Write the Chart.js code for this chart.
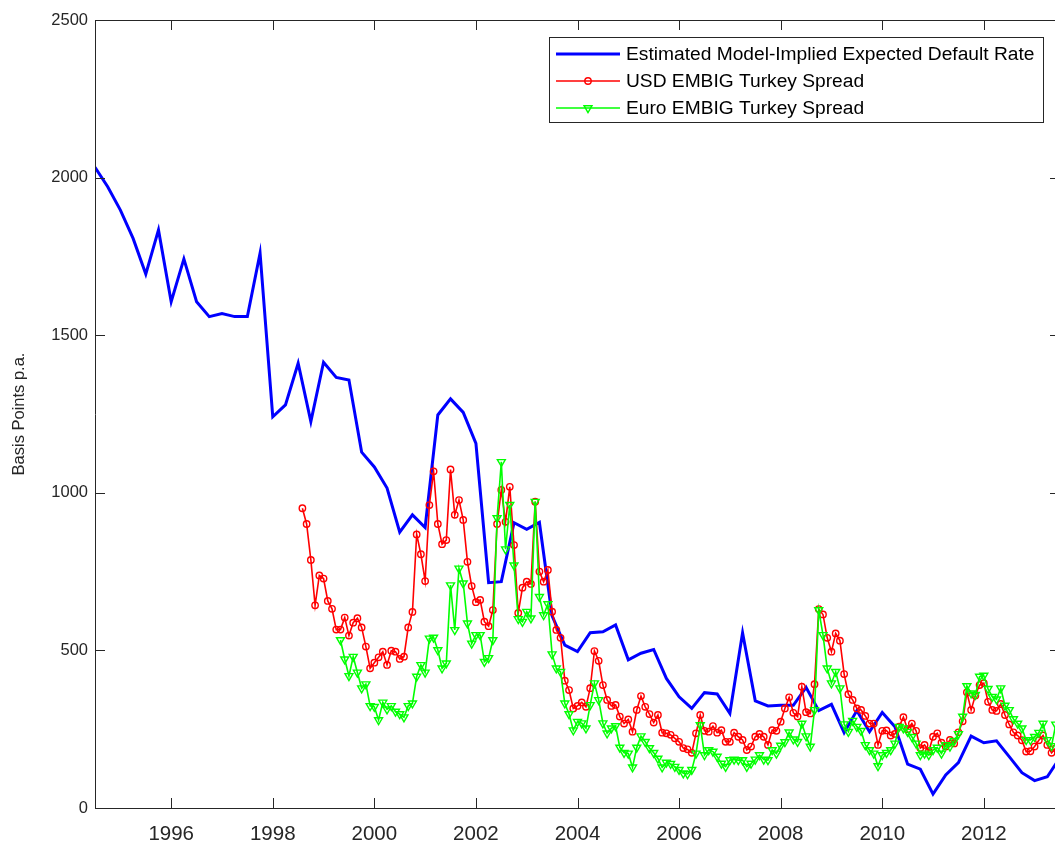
<!DOCTYPE html>
<html><head><meta charset="utf-8">
<script src="https://cdn.jsdelivr.net/npm/chart.js@4.4.1/dist/chart.umd.min.js"></script>
<style>
html,body{margin:0;padding:0;background:#fff;overflow:hidden;}
#wrap{position:absolute;left:0;top:0;width:1068px;height:843px;}
</style></head><body>
<div id="wrap"><canvas id="c" width="1068" height="843"></canvas></div>
<script>
// ---- data ----
const tickYears = [1996,1998,2000,2002,2004,2006,2008,2010,2012];
const yTickValues = [0,500,1000,1500,2000,2500];
const seriesNames = ['Estimated Model-Implied Expected Default Rate','USD EMBIG Turkey Spread','Euro EMBIG Turkey Spread'];
const yAxisTitle = 'Basis Points p.a.';

// quarterly, first observation 1994 Q3
const modelStartYear = 1994.5;
const modelRate = [2033,1971,1897,1807,1694,1834,1606,1742,1606,1559,1569,1559,1559,1760,1241,1279,1411,1226,1414,1366,
1358,1129,1082,1015,875,930,890,1247,1298,1255,1157,715,718,905,884,906,610,517,496,556,
559,581,470,491,503,411,353,316,366,362,300,556,340,324,326,326,383,309,329,239,
309,242,303,258,139,123,44,105,144,228,207,213,163,112,87,99,160];

// monthly, first observation Aug 1998
const usdStart = {year:1998, month:8};
const usdSpread = [951,901,787,643,738,728,657,632,566,566,
604,547,588,602,573,512,443,461,478,496,
454,499,496,473,480,573,622,868,805,720,
961,1068,901,837,850,1074,930,977,914,781,
704,653,660,591,577,628,901,1009,908,1019,
834,619,699,718,711,972,750,718,755,623,
565,540,404,374,316,324,335,321,380,498,
467,390,343,324,327,290,268,281,242,311,
355,321,298,271,295,239,237,232,221,210,
190,186,175,237,295,245,242,260,239,247,
210,210,239,226,216,184,195,226,235,226,
200,247,245,274,316,351,302,290,385,304,
300,393,631,614,540,496,554,531,425,361,
343,316,311,292,268,268,200,245,246,230,
235,258,288,250,268,245,190,200,180,226,
237,207,195,216,205,240,275,367,311,357,
390,396,337,311,308,330,295,265,240,230,
215,179,180,195,215,230,200,175,190];

// monthly, first observation May 1999
const euroStart = {year:1999, month:5};
const euroSpread = [533,472,419,480,430,380,393,324,321,279,335,
313,324,306,298,288,324,332,417,454,430,
538,541,501,443,459,707,565,760,713,586,
522,549,549,464,476,533,920,1098,821,962,
770,600,591,623,602,972,670,612,647,488,
443,432,332,298,247,274,269,253,327,396,
343,269,237,253,260,192,175,173,129,192,
228,210,190,175,157,129,144,140,131,121,
110,108,121,173,263,168,184,179,163,141,
131,152,154,152,152,131,141,154,168,154,
152,184,173,198,209,240,218,210,268,228,
195,311,628,549,443,396,432,380,266,242,
277,258,245,200,184,173,133,168,175,184,
205,258,253,242,226,205,168,173,168,184,
192,173,200,195,213,235,290,387,364,359,
417,420,378,353,345,380,325,311,282,268,
253,216,216,226,239,268,216,197,265];

// ---- build points ----
const quarterly = (start, vals) => vals.map((v,i) => ({x: start + i/4, y: v}));
const monthly = (st, vals) => vals.map((v,i) => ({x: st.year + (st.month - 1 + i)/12, y: v}));

const FONT = "'Liberation Sans', Arial, Helvetica, sans-serif";
const AXIS = '#262626';
const COLORS = ['#0000ff','#ff0000','#00ff00'];

const framePlugin = {
  id: 'frame',
  afterDatasetsDraw(chart) {
    const {ctx, chartArea: a, scales: {x, y}} = chart;
    ctx.save();
    ctx.strokeStyle = AXIS;
    ctx.lineWidth = 1;
    ctx.beginPath();
    ctx.rect(Math.round(a.left) + 0.5, Math.round(a.top) + 0.5, Math.round(a.right - a.left), Math.round(a.bottom - a.top));
    ctx.stroke();
    const TL = 10;
    ctx.beginPath();
    tickYears.forEach(t => {
      const px = Math.round(x.getPixelForValue(t)) + 0.5;
      ctx.moveTo(px, a.bottom); ctx.lineTo(px, a.bottom - TL);
      ctx.moveTo(px, a.top); ctx.lineTo(px, a.top + TL);
    });
    yTickValues.forEach(t => {
      const py = Math.round(y.getPixelForValue(t)) + 0.5;
      ctx.moveTo(a.left, py); ctx.lineTo(a.left + TL, py);
      ctx.moveTo(a.right, py); ctx.lineTo(a.right - TL, py);
    });
    ctx.stroke();

    // legend
    const bx = 549.5, by = 37.5, bw = 494, bh = 85;
    ctx.fillStyle = '#ffffff';
    ctx.fillRect(bx, by, bw, bh);
    ctx.strokeStyle = AXIS;
    ctx.lineWidth = 1;
    ctx.strokeRect(bx, by, bw, bh);
    const rows = [54, 81, 108];
    chart.data.datasets.forEach((ds, i) => {
      const ry = rows[i];
      ctx.strokeStyle = ds.borderColor;
      ctx.lineWidth = ds.borderWidth;
      ctx.beginPath(); ctx.moveTo(556, ry); ctx.lineTo(620, ry); ctx.stroke();
      if (ds.pointRadius > 0) {
        ctx.fillStyle = 'rgba(0,0,0,0)';
        ctx.strokeStyle = ds.pointBorderColor;
        ctx.lineWidth = ds.pointBorderWidth;
        Chart.helpers.drawPoint(ctx, {pointStyle: ds.pointStyle, radius: ds.pointRadius, rotation: ds.pointRotation || 0, borderWidth: ds.pointBorderWidth}, 588, ry);
      }
      ctx.fillStyle = '#000000';
      ctx.font = '19.2px ' + FONT;
      ctx.textBaseline = 'middle';
      ctx.textAlign = 'left';
      ctx.fillText(ds.label, 626, ry + 1);
    });
    ctx.restore();
  }
};

new Chart(document.getElementById('c'), {
  type: 'line',
  data: {
    datasets: [
      {label: seriesNames[0], data: quarterly(modelStartYear, modelRate), borderColor: COLORS[0], borderWidth: 3,
       pointRadius: 0, tension: 0, order: 3},
      {label: seriesNames[1], data: monthly(usdStart, usdSpread), borderColor: COLORS[1], borderWidth: 1.6,
       pointStyle: 'circle', pointRadius: 3.2, pointBorderWidth: 1.4, pointBorderColor: COLORS[1],
       pointBackgroundColor: 'rgba(0,0,0,0)', tension: 0, order: 2},
      {label: seriesNames[2], data: monthly(euroStart, euroSpread), borderColor: COLORS[2], borderWidth: 1.6,
       pointStyle: 'triangle', pointRotation: 180, pointRadius: 4.6, pointBorderWidth: 1.4, pointBorderColor: COLORS[2],
       pointBackgroundColor: 'rgba(0,0,0,0)', tension: 0, order: 1}
    ]
  },
  options: {
    responsive: false, animation: false,
    layout: {padding: {left: 0, top: 20, right: 8, bottom: 0}},
    plugins: {legend: {display: false}, tooltip: {enabled: false}},
    scales: {
      x: {
        type: 'linear', min: 1994.5, max: 2013.5,
        grid: {display: false, drawTicks: false}, border: {display: false},
        afterBuildTicks: s => { s.ticks = tickYears.map(v => ({value: v})); },
        afterFit: s => { s.height = 35; },
        ticks: {autoSkip: false, maxRotation: 0, padding: 14, color: AXIS,
                font: {family: FONT, size: 20.5}, callback: v => String(v)}
      },
      y: {
        min: 0, max: 2500,
        grid: {display: false, drawTicks: false}, border: {display: false},
        afterBuildTicks: s => { s.ticks = yTickValues.map(v => ({value: v})); },
        afterFit: s => { s.width = 95; },
        ticks: {padding: 7, color: AXIS, font: {family: FONT, size: 16.5}, callback: v => String(v)},
        title: {display: true, text: yAxisTitle, color: AXIS, font: {family: FONT, size: 16.5}, padding: {top: 10, bottom: 0}}
      }
    }
  },
  plugins: [framePlugin]
});
</script>
</body></html>
